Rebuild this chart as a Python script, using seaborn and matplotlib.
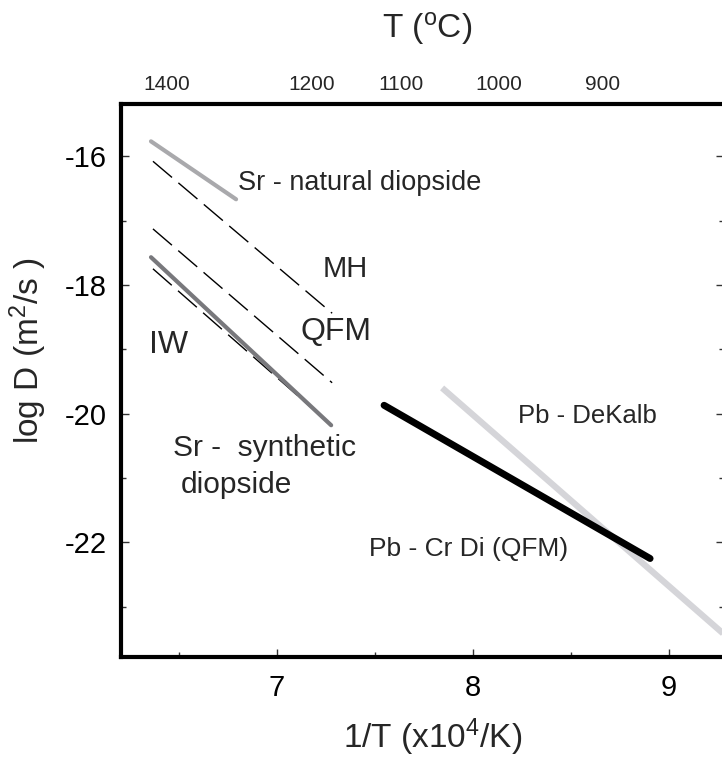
import matplotlib
matplotlib.use("Agg")
import matplotlib.pyplot as plt
from matplotlib.ticker import MultipleLocator
import seaborn as sns

# ---- data (1/T in 10^4/K, log D in m^2/s) ----
natural_x = [6.357, 6.791]
natural_y = [-15.77, -16.67]
mh_x = [6.367, 7.281]
mh_y = [-16.08, -18.44]
qfm_x = [6.367, 7.281]
qfm_y = [-17.13, -19.52]
iw_x = [6.367, 7.281]
iw_y = [-17.75, -20.19]
synthetic_x = [6.357, 7.276]
synthetic_y = [-17.57, -20.18]
crdi_x = [7.546, 8.903]
crdi_y = [-19.87, -22.25]
dekalb_x = [7.842, 9.30]
dekalb_y = [-19.60, -23.48]

top_tick_pos = [6.439, 7.179, 7.633, 8.133, 8.658]
top_tick_labels = ["1400", "1200", "1100", "1000", "900"]
bottom_ticks = [7, 8, 9]
left_ticks = [-16, -18, -20, -22]

sns.set_theme(style="white")
plt.rcParams["font.family"] = ["Liberation Sans", "DejaVu Sans"]
plt.rcParams["mathtext.fontset"] = "custom"
plt.rcParams["mathtext.rm"] = "Liberation Sans"
plt.rcParams["mathtext.it"] = "Liberation Sans"
plt.rcParams["mathtext.bf"] = "Liberation Sans"

W, H = 722, 757
fig = plt.figure(figsize=(W / 100, H / 100), dpi=100)
L, R, T, B = 121, 724, 104, 657
ax = fig.add_axes([L / W, 1 - B / H, (R - L) / W, (B - T) / H])

dash = (0, (18, 6))
sns.lineplot(x=mh_x, y=mh_y, ax=ax, color="black", lw=1.0, linestyle=dash)
sns.lineplot(x=qfm_x, y=qfm_y, ax=ax, color="black", lw=1.0, linestyle=dash)
sns.lineplot(x=iw_x, y=iw_y, ax=ax, color="black", lw=1.0, linestyle=dash)
sns.lineplot(x=natural_x, y=natural_y, ax=ax, color="#a9a9ac", lw=3.0,
             solid_capstyle="round")
sns.lineplot(x=synthetic_x, y=synthetic_y, ax=ax, color="#78787c", lw=3.0,
             solid_capstyle="round")
sns.lineplot(x=dekalb_x, y=dekalb_y, ax=ax, color="#d5d5d9", lw=4.5,
             solid_capstyle="butt")
sns.lineplot(x=crdi_x, y=crdi_y, ax=ax, color="black", lw=5.0,
             solid_capstyle="round")

ax.set_xlim(6.204, 9.28)
ax.set_ylim(-23.78, -15.19)
ax.set_xticks(bottom_ticks)
ax.set_yticks(left_ticks)
ax.set_yticklabels([str(v) for v in left_ticks])
ax.xaxis.set_minor_locator(MultipleLocator(0.5))
ax.yaxis.set_minor_locator(MultipleLocator(1))
ax.tick_params(axis="both", which="both", direction="in", color="#333333",
               width=1.0, labelsize=21, labelcolor="black")
ax.tick_params(axis="both", which="major", length=6)
ax.tick_params(axis="both", which="minor", length=3.5)
ax.tick_params(axis="y", which="both", left=True, right=True, pad=10)
ax.tick_params(axis="x", which="both", bottom=True, top=False, pad=12)
for s in ax.spines.values():
    s.set_linewidth(3.0)
    s.set_color("black")
    s.set_visible(True)
ax.set_xlabel("")
ax.set_ylabel("")

sec = ax.secondary_xaxis("top")
sec.set_xticks(top_tick_pos, top_tick_labels)
sec.tick_params(length=0, labelsize=15, pad=7)
sec.spines["top"].set_visible(False)

# axis titles
fig.text(427 / W, 1 - 28 / H, r"T ($^{\rm o}$C)", fontsize=24,
         ha="center", va="center")
fig.text(433 / W, 1 - 748 / H, r"1/T (x10$^{4}$/K)", fontsize=24,
         ha="center", va="baseline")
fig.text(28 / W, 1 - 351 / H, r"log D (m$^{2}$/s )", fontsize=24,
         ha="center", va="center", rotation=90)

# annotations
ax.annotate("Sr - natural diopside", xy=(238, H - 183), xycoords="figure pixels",
            fontsize=19.5, ha="left", va="center")
ax.annotate("MH", xy=(345, H - 269), xycoords="figure pixels",
            fontsize=21, ha="center", va="center")
ax.annotate("QFM", xy=(336, H - 332), xycoords="figure pixels",
            fontsize=23, ha="center", va="center")
ax.annotate("IW", xy=(169, H - 345), xycoords="figure pixels",
            fontsize=23, ha="center", va="center")
ax.annotate("Sr -  synthetic", xy=(173, H - 448), xycoords="figure pixels",
            fontsize=21.5, ha="left", va="center")
ax.annotate("diopside", xy=(181, H - 485), xycoords="figure pixels",
            fontsize=21.5, ha="left", va="center")
ax.annotate("Pb - DeKalb", xy=(587, H - 416), xycoords="figure pixels",
            fontsize=18.5, ha="center", va="center")
ax.annotate("Pb - Cr Di (QFM)", xy=(469, H - 549), xycoords="figure pixels",
            fontsize=19, ha="center", va="center")

fig.savefig("out.png", dpi=100)
